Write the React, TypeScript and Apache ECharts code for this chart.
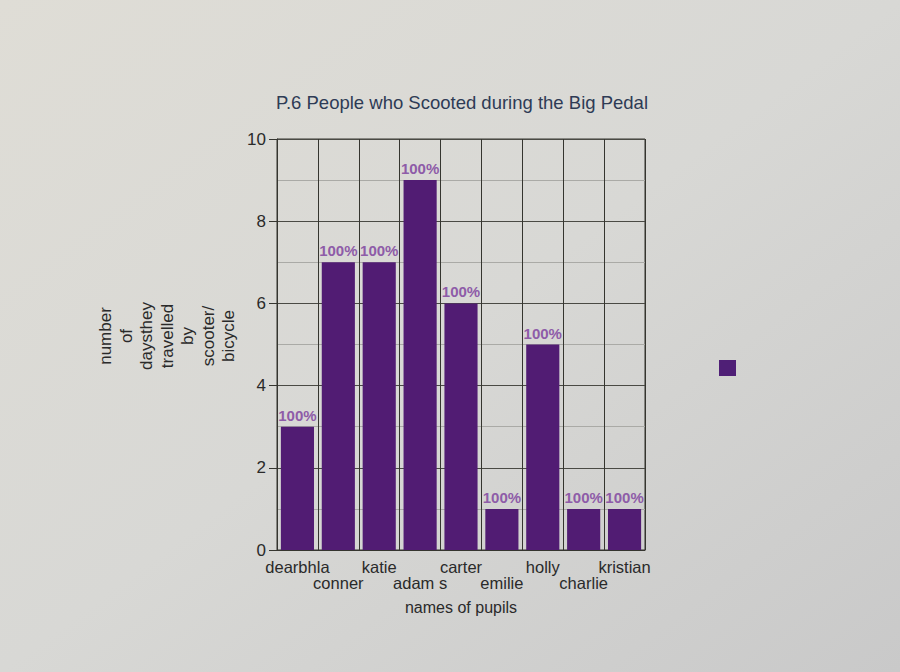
import React, { useEffect, useRef } from "react";
import * as echarts from "echarts";

const pupils = ["dearbhla", "conner", "katie", "adam s", "carter", "emilie", "holly", "charlie", "kristian"];
const days = [3, 7, 7, 9, 6, 1, 5, 1, 1];
const pctLabels = ["100%", "100%", "100%", "100%", "100%", "100%", "100%", "100%", "100%"];
const yTicks = [0, 2, 4, 6, 8, 10];

const titleText = "P.6 People who Scooted during the Big Pedal";
const yAxisTitle = "number\nof\ndaysthey\ntravelled\nby\nscooter/\nbicycle";
const xAxisTitle = "names of pupils";

export default function App() {
  const ref = useRef<HTMLDivElement>(null);
  useEffect(() => {
    if (!ref.current) return;
    const chart = echarts.init(ref.current, null, { renderer: "svg" });
    const font = "'Liberation Sans', Arial, sans-serif";
    const dark = "#35352f";
    chart.setOption({
      animation: false,
      backgroundColor: {
        type: "linear",
        x: 0,
        y: 0,
        x2: 1,
        y2: 1,
        colorStops: [
          { offset: 0, color: "#dfddd6" },
          { offset: 0.5, color: "#d8d8d5" },
          { offset: 1, color: "#c9c9c9" },
        ],
      },
      textStyle: { fontFamily: font },
      title: {
        text: titleText,
        left: 457,
        top: 88,
        textAlign: "center",
        textStyle: { fontSize: 18.5, fontWeight: "normal", color: "#2e3b55", fontFamily: font },
      },
      grid: {
        left: 277,
        right: 255,
        top: 139,
        bottom: 122,
        show: true,
        borderColor: dark,
        borderWidth: 1,
        backgroundColor: "transparent",
      },
      xAxis: [
        {
          type: "category",
          data: pupils,
          position: "bottom",
          axisLine: { lineStyle: { color: dark, width: 1 } },
          axisTick: {
            alignWithLabel: true,
            length: 7,
            interval: (i: number) => i % 2 === 0,
            lineStyle: { color: dark },
          },
          splitLine: { show: true, interval: 0, lineStyle: { color: dark, width: 1 } },
          axisLabel: {
            interval: 0,
            margin: 9,
            fontSize: 16.5,
            lineHeight: 16,
            color: "#2a2a2a",
            formatter: (v: string, i: number) => (i % 2 === 1 ? "\n" + v : v),
          },
          name: xAxisTitle,
          nameLocation: "middle",
          nameGap: 49,
          nameTextStyle: { fontSize: 16, color: "#2a2a2a" },
        },
        {
          type: "category",
          data: pupils,
          position: "bottom",
          axisLine: { show: false },
          axisTick: {
            alignWithLabel: true,
            length: 22,
            interval: (i: number) => i % 2 === 1,
            lineStyle: { color: dark },
          },
          splitLine: { show: false },
          axisLabel: { show: false },
        },
      ],
      yAxis: {
        type: "value",
        min: 0,
        max: 10,
        interval: 2,
        axisLine: { show: true, lineStyle: { color: dark } },
        axisTick: { show: true, length: 8, lineStyle: { color: dark } },
        minorTick: { show: false, splitNumber: 2 },
        minorSplitLine: { show: true, lineStyle: { color: "#aaaaa6", width: 1 } },
        splitLine: { show: true, lineStyle: { color: "#4a4a44", width: 1 } },
        axisLabel: {
          fontSize: 17,
          color: "#2a2a2a",
          margin: 11,
          formatter: (v: number) => (yTicks.includes(v) ? String(v) : ""),
        },
      },
      graphic: [
        {
          type: "text",
          x: 167,
          y: 336,
          rotation: Math.PI / 2,
          style: {
            text: yAxisTitle,
            fontSize: 17,
            lineHeight: 20.5,
            fill: "#2a2a2a",
            align: "center",
            verticalAlign: "middle",
            fontFamily: font,
          },
        },
        {
          type: "rect",
          shape: { x: 719, y: 360, width: 17, height: 16 },
          style: { fill: "#4f1f76" },
        },
      ],
      series: [
        {
          type: "bar",
          data: days,
          xAxisIndex: 0,
          barCategoryGap: "19%",
          itemStyle: { color: "#511c73" },
          label: {
            show: true,
            position: "top",
            distance: 4,
            formatter: (p: any) => pctLabels[p.dataIndex],
            fontSize: 15,
            fontWeight: "bold",
            color: "#8e5ca8",
            fontFamily: font,
          },
        },
      ],
    });
    return () => chart.dispose();
  }, []);
  return <div ref={ref} style={{ width: 900, height: 672, position: "absolute", left: 0, top: 0 }} />;
}
